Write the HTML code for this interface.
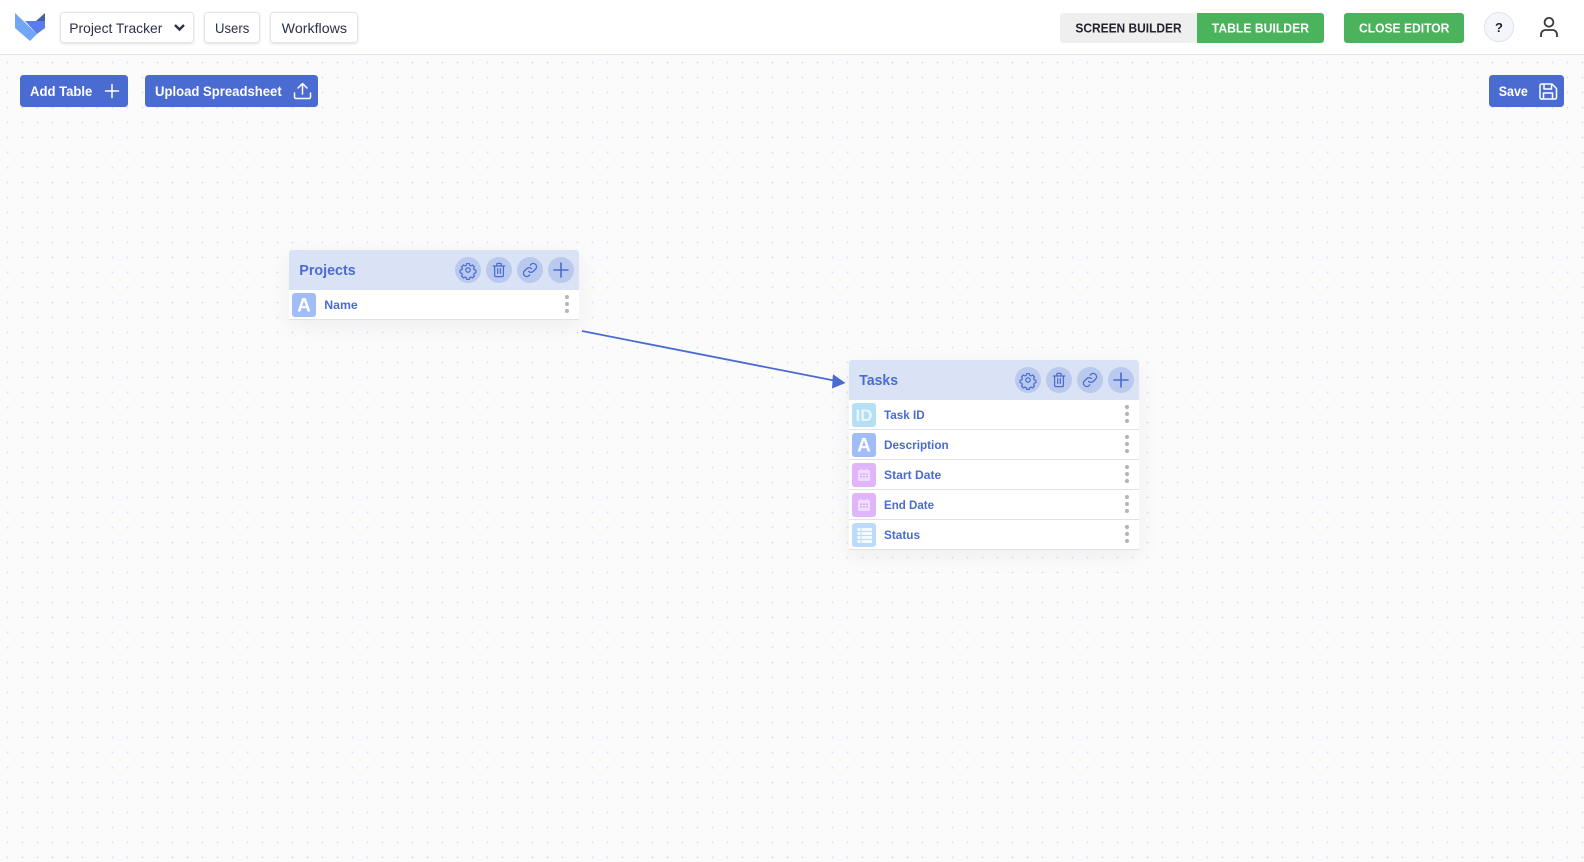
<!DOCTYPE html>
<html lang="en">
<head>
<meta charset="utf-8">
<title>Project Tracker - Table Builder</title>
<style>
html,body{margin:0;padding:0;background:#fbfbfb;width:1584px;height:862px;overflow:hidden}
svg{display:block}
text{font-family:"Liberation Sans",sans-serif}
.nav{font-size:14px;fill:#2b3146}
.btn{font-size:14px;font-weight:700;fill:#fff}
.tab{font-size:13px;font-weight:700}
.title{font-size:15px;font-weight:700;fill:#4a6bd2}
.field{font-size:11.5px;font-weight:700;fill:#4a6bd2}
.ico{fill:none;stroke:#4a6bd2;stroke-width:1.4;stroke-linecap:round;stroke-linejoin:round}
.wi{fill:none;stroke:#fff;stroke-width:1.5;stroke-linecap:round;stroke-linejoin:round}
</style>
</head>
<body>
<svg xmlns="http://www.w3.org/2000/svg" width="1584" height="862" viewBox="0 0 1584 862">
<defs>
<pattern id="dots" x="0" y="0" width="15" height="15" patternUnits="userSpaceOnUse">
<rect x="6" y="2" width="3" height="1" fill="#e6f0fd"/>
<rect x="7" y="1" width="1" height="3" fill="#e6f0fd"/>
<rect x="7" y="2" width="1" height="1" fill="#d2e4fb"/>
</pattern>
<filter id="sh" x="-20%" y="-30%" width="140%" height="170%"><feDropShadow dx="0" dy="6" stdDeviation="10" flood-color="#000" flood-opacity=".05"/></filter>
<filter id="bs" x="-10%" y="-20%" width="120%" height="150%"><feDropShadow dx="0" dy="1" stdDeviation="1" flood-color="#000" flood-opacity=".12"/></filter>
<g id="dots3"><circle cx="0" cy="-7" r="2" fill="#b4b4b4"/><circle cx="0" cy="0" r="2" fill="#b4b4b4"/><circle cx="0" cy="7" r="2" fill="#b4b4b4"/></g>
<g id="tools">
<circle cx="0" cy="0" r="13" fill="#bac9ee"/><circle cx="31" cy="0" r="13" fill="#bac9ee"/><circle cx="62" cy="0" r="13" fill="#bac9ee"/><circle cx="93" cy="0" r="13" fill="#bac9ee"/>
<g class="ico">
<g transform="scale(.86)">
<circle cx="0" cy="0" r="2.6"/>
<path d="M-1.5-7.5h3l.5 2 1.6.7 1.8-1 2.1 2.1-1 1.8.7 1.6 2 .5v3l-2 .5-.7 1.6 1 1.8-2.1 2.1-1.8-1-1.6.7-.5 2h-3l-.5-2-1.6-.7-1.8 1-2.1-2.1 1-1.8-.7-1.6-2-.5v-3l2-.5.7-1.6-1-1.8 2.1-2.1 1.8 1 1.6-.7z"/>
</g>
<g transform="translate(31 0) scale(.88) translate(-31 0)">
<path d="M24.5-4.500h13M28.500-4.500v-2a1 1 0 0 1 1-1h3a1 1 0 0 1 1 1v2M26-4.500v10.500a1.500 1.500 0 0 0 1.500 1.500h7a1.500 1.500 0 0 0 1.500-1.500V-4.500M29.500-1.500v5.500M32.500-1.500v5.500"/>
</g>
<g transform="translate(62 0) scale(.92) translate(-62 0)">
<path d="M60.500 1.500a3.500 3.500 0 0 0 5 0l3-3a3.600 3.600 0 0 0-5-5l-1.200 1.200M63.500-1.500a3.500 3.500 0 0 0-5 0l-3 3a3.600 3.600 0 0 0 5 5l1.200-1.200"/>
</g>
<path d="M93-7v14M86 0h14" stroke-width="1.600"/>
</g>
</g>
<g id="cal">
<rect x="-6" y="-5" width="12" height="11" rx="1.500" fill="#f0defe"/>
<rect x="-3.500" y="-6.300" width="1.200" height="2.500" fill="#f0defe"/>
<rect x="2.300" y="-6.300" width="1.200" height="2.500" fill="#f0defe"/>
<g fill="#d9a9f8">
<rect x="-4" y="-1.500" width="2" height="1.500"/><rect x="-1" y="-1.500" width="2" height="1.500"/><rect x="2" y="-1.500" width="2" height="1.500"/>
<rect x="-4" y="1" width="2" height="1.500"/><rect x="-1" y="1" width="2" height="1.500"/><rect x="2" y="1" width="2" height="1.500"/>
</g>
</g>
</defs>

<rect width="1584" height="862" fill="#fbfbfb"/>
<rect y="55" width="1584" height="807" fill="url(#dots)"/>

<!-- top bar -->
<rect width="1584" height="54" fill="#fff"/>
<rect y="54" width="1584" height="1" fill="#e4e4e4"/>

<!-- logo -->
<polygon points="15,13 15,28 30,41 37,34" fill="#70a6f4"/>
<polygon points="25,21 45,21 45,28 37,34" fill="#5a7cea"/>
<polygon points="36,21 45,13 45,21" fill="#47609f"/>

<!-- nav -->
<g fill="#fff" stroke="#e6e6e6" filter="url(#bs)">
<rect x="60.500" y="12.500" width="133" height="30" rx="3"/>
<rect x="204.500" y="12.500" width="55" height="30" rx="3"/>
<rect x="270.500" y="12.500" width="87" height="30" rx="3"/>
</g>
<text class="nav" x="69.300" y="33" textLength="93" lengthAdjust="spacingAndGlyphs">Project Tracker</text>
<path d="M175 25l4.500 4.500 4.500-4.500" fill="none" stroke="#2b3146" stroke-width="2.400"/>
<text class="nav" x="215" y="33" textLength="34.300" lengthAdjust="spacingAndGlyphs">Users</text>
<text class="nav" x="281.700" y="33" textLength="65.300" lengthAdjust="spacingAndGlyphs">Workflows</text>

<!-- right tabs -->
<path d="M1197 13h-134a3 3 0 0 0-3 3v24a3 3 0 0 0 3 3h134z" fill="#efefef"/>
<path d="M1197 13h124a3 3 0 0 1 3 3v24a3 3 0 0 1-3 3h-124z" fill="#4ab35b"/>
<text class="tab" x="1075.400" y="32.500" fill="#23232f" textLength="106.200" lengthAdjust="spacingAndGlyphs">SCREEN BUILDER</text>
<text class="tab" x="1211.800" y="32.500" fill="#fff" textLength="97.200" lengthAdjust="spacingAndGlyphs">TABLE BUILDER</text>
<rect x="1344" y="13" width="120" height="30" rx="3" fill="#4ab35b"/>
<text class="tab" x="1359" y="32.500" fill="#fff" textLength="90.400" lengthAdjust="spacingAndGlyphs">CLOSE EDITOR</text>
<circle cx="1499" cy="27" r="14.500" fill="#f5f6fb" stroke="#e1e2e8"/>
<text x="1499" y="32" text-anchor="middle" font-size="13" font-weight="700" fill="#23232f">?</text>
<circle cx="1549" cy="22.300" r="4.400" fill="none" stroke="#3a3a3a" stroke-width="1.800"/>
<path d="M1541 37v-2.500a4.500 4.500 0 0 1 4.500-4.500h7a4.500 4.500 0 0 1 4.500 4.500v2.500" fill="none" stroke="#3a3a3a" stroke-width="1.800"/>

<!-- toolbar -->
<rect x="20" y="75" width="108" height="32" rx="3.500" fill="#4a6bd2"/>
<text class="btn" x="30" y="96" textLength="62.300" lengthAdjust="spacingAndGlyphs">Add Table</text>
<path class="wi" d="M112 84.500v13M105.500 91h13"/>
<rect x="145" y="75" width="173" height="32" rx="3.500" fill="#4a6bd2"/>
<text class="btn" x="155" y="96" textLength="126.700" lengthAdjust="spacingAndGlyphs">Upload Spreadsheet</text>
<path class="wi" d="M302.500 94V84M298 88l4.500-4.500L307 88M294.500 93v4a1.500 1.500 0 0 0 1.500 1.500h13a1.500 1.500 0 0 0 1.500-1.500v-4"/>
<rect x="1489" y="75" width="75" height="32" rx="3.500" fill="#4a6bd2"/>
<text class="btn" x="1498.700" y="96" textLength="29.200" lengthAdjust="spacingAndGlyphs">Save</text>
<path class="wi" d="M1541.500 84h10.500l4.500 4.500v9a1.500 1.500 0 0 1-1.500 1.500h-13.500a1.500 1.500 0 0 1-1.500-1.500v-12a1.500 1.500 0 0 1 1.500-1.500zM1544 84v5h7.500v-5M1543.500 99v-6h9v6"/>

<!-- connector -->
<line x1="582" y1="331" x2="834" y2="380.500" stroke="#4a6bd2" stroke-width="1.800"/>
<polygon points="845.500,383 832,388.500 833,374.300" fill="#4a6bd2"/>

<!-- Projects -->
<rect x="289" y="250" width="290" height="70" rx="3" fill="#fff" filter="url(#sh)"/>
<path d="M289 290v-37a3 3 0 0 1 3-3h284a3 3 0 0 1 3 3v37z" fill="#dae2f5"/>
<text class="title" x="299.300" y="275" textLength="56.400" lengthAdjust="spacingAndGlyphs">Projects</text>
<use href="#tools" x="468" y="270"/>
<rect x="289" y="319" width="290" height="1" fill="#e2e2e2"/>
<rect x="292" y="293" width="24" height="24" rx="3" fill="#a0bdf8"/>
<text x="304" y="311.500" text-anchor="middle" font-size="19" font-weight="700" fill="#fff">A</text>
<text class="field" x="324.300" y="309" textLength="33.400" lengthAdjust="spacingAndGlyphs">Name</text>
<use href="#dots3" x="567" y="304"/>

<!-- Tasks -->
<rect x="849" y="360" width="290" height="190" rx="3" fill="#fff" filter="url(#sh)"/>
<path d="M849 400v-37a3 3 0 0 1 3-3h284a3 3 0 0 1 3 3v37z" fill="#dae2f5"/>
<text class="title" x="859.300" y="385" textLength="38.700" lengthAdjust="spacingAndGlyphs">Tasks</text>
<use href="#tools" x="1028" y="380"/>
<g fill="#e2e2e2">
<rect x="849" y="429" width="290" height="1"/>
<rect x="849" y="459" width="290" height="1"/>
<rect x="849" y="489" width="290" height="1"/>
<rect x="849" y="519" width="290" height="1"/>
<rect x="849" y="549" width="290" height="1"/>
</g>

<rect x="852" y="403" width="24" height="24" rx="3" fill="#b5dff5"/>
<text x="864" y="421" text-anchor="middle" font-size="17" font-weight="700" fill="#e9f6fd">ID</text>
<text class="field" x="884" y="419" textLength="40.700" lengthAdjust="spacingAndGlyphs">Task ID</text>
<use href="#dots3" x="1127" y="414"/>

<rect x="852" y="433" width="24" height="24" rx="3" fill="#a0bdf8"/>
<text x="864" y="451.500" text-anchor="middle" font-size="19" font-weight="700" fill="#fff">A</text>
<text class="field" x="884" y="449" textLength="64.700" lengthAdjust="spacingAndGlyphs">Description</text>
<use href="#dots3" x="1127" y="444"/>

<rect x="852" y="463" width="24" height="24" rx="3" fill="#e0b5fa"/>
<use href="#cal" x="864" y="475"/>
<text class="field" x="884" y="479" textLength="57.300" lengthAdjust="spacingAndGlyphs">Start Date</text>
<use href="#dots3" x="1127" y="474"/>

<rect x="852" y="493" width="24" height="24" rx="3" fill="#e0b5fa"/>
<use href="#cal" x="864" y="505"/>
<text class="field" x="884" y="509" textLength="50" lengthAdjust="spacingAndGlyphs">End Date</text>
<use href="#dots3" x="1127" y="504"/>

<rect x="852" y="523" width="24" height="24" rx="3" fill="#bbdafe"/>
<g fill="#f4f9ff">
<rect x="857.500" y="528" width="3" height="3"/><rect x="861.500" y="528" width="10.500" height="3"/>
<rect x="857.500" y="532" width="3" height="3"/><rect x="861.500" y="532" width="10.500" height="3"/>
<rect x="857.500" y="536" width="3" height="3"/><rect x="861.500" y="536" width="10.500" height="3"/>
<rect x="857.500" y="540" width="3" height="3"/><rect x="861.500" y="540" width="10.500" height="3"/>
</g>
<text class="field" x="884" y="539" textLength="36" lengthAdjust="spacingAndGlyphs">Status</text>
<use href="#dots3" x="1127" y="534"/>
</svg>
</body>
</html>
